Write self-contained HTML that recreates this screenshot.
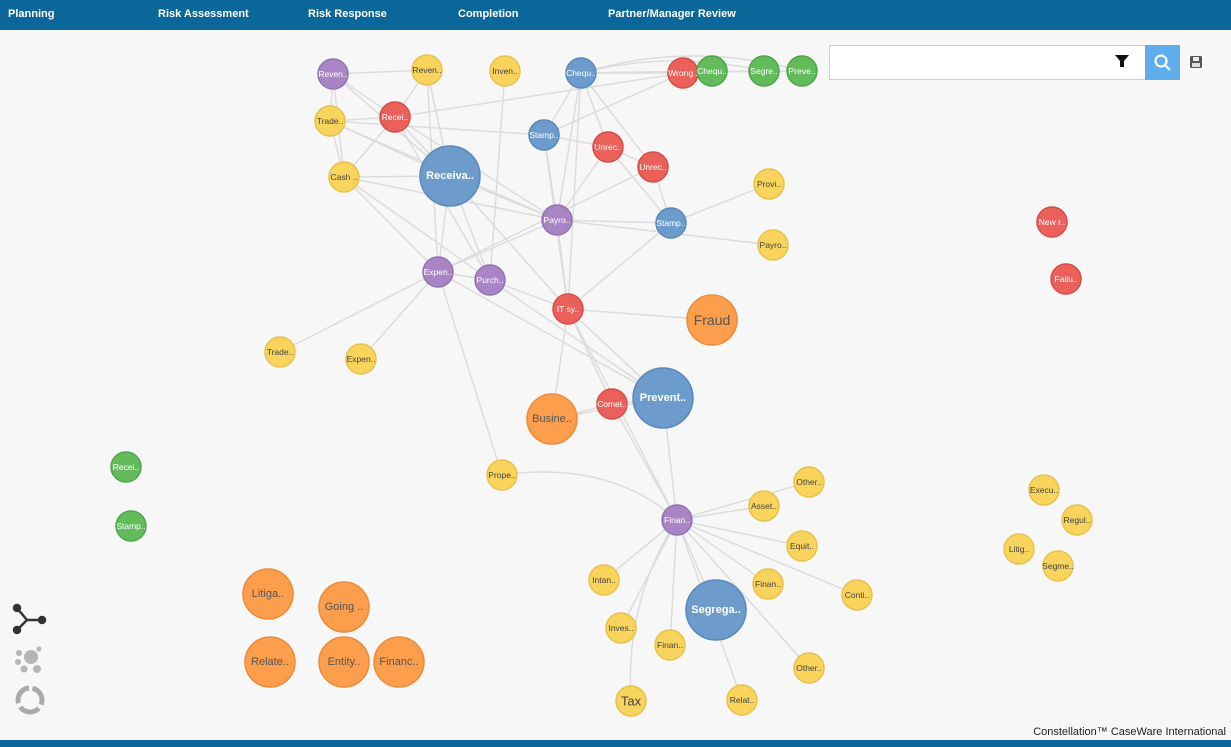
<!DOCTYPE html>
<html><head><meta charset="utf-8"><style>
html,body{margin:0;padding:0;width:1231px;height:747px;overflow:hidden;background:#f7f7f7;font-family:"Liberation Sans",sans-serif}
.top{position:absolute;left:0;top:0;width:1231px;height:30px;background:#0b6699}
.top span{position:absolute;top:8px;color:#fff;font-weight:bold;font-size:11px}
.bot{position:absolute;left:0;top:740px;width:1231px;height:7px;background:#0b6699}
.foot{position:absolute;right:5px;top:726px;font-size:11px;color:#222}
.search{position:absolute;left:829px;top:45px;width:315px;height:33px;background:#fff;border:1px solid #ccc}
.btn{position:absolute;left:1145px;top:45px;width:35px;height:35px;background:#5fadea}
</style></head><body>
<div class="top"><span style="left:8px">Planning</span><span style="left:158px">Risk Assessment</span><span style="left:308px">Risk Response</span><span style="left:458px">Completion</span><span style="left:608px">Partner/Manager Review</span></div>
<svg width="1231" height="747" style="position:absolute;left:0;top:0">
<g stroke="#dcdcdc" stroke-width="1.5" fill="none">
<line x1="333" y1="74" x2="427" y2="70"/><line x1="333" y1="74" x2="330" y2="121"/><line x1="333" y1="74" x2="395" y2="117"/><line x1="333" y1="74" x2="450" y2="176"/><line x1="333" y1="74" x2="344" y2="177"/>
<line x1="427" y1="70" x2="395" y2="117"/><line x1="427" y1="70" x2="450" y2="176"/><line x1="427" y1="70" x2="438" y2="272"/>
<line x1="330" y1="121" x2="344" y2="177"/><line x1="330" y1="121" x2="450" y2="176"/><line x1="330" y1="121" x2="395" y2="117"/><line x1="330" y1="121" x2="544" y2="135"/><line x1="330" y1="121" x2="557" y2="220"/>
<line x1="395" y1="117" x2="344" y2="177"/><line x1="395" y1="117" x2="450" y2="176"/><line x1="395" y1="117" x2="683" y2="73"/><line x1="395" y1="117" x2="557" y2="220"/><line x1="395" y1="117" x2="490" y2="280"/>
<line x1="344" y1="177" x2="450" y2="176"/><line x1="344" y1="177" x2="438" y2="272"/><line x1="344" y1="177" x2="490" y2="280"/><line x1="344" y1="177" x2="557" y2="220"/>
<line x1="450" y1="176" x2="438" y2="272"/><line x1="450" y1="176" x2="490" y2="280"/><line x1="450" y1="176" x2="557" y2="220"/><line x1="450" y1="176" x2="568" y2="309"/>
<line x1="505" y1="71" x2="490" y2="280"/>
<line x1="581" y1="73" x2="544" y2="135"/><line x1="581" y1="73" x2="608" y2="147"/><line x1="581" y1="73" x2="653" y2="167"/><line x1="581" y1="73" x2="557" y2="220"/><line x1="581" y1="73" x2="568" y2="309"/><line x1="581" y1="73" x2="683" y2="73"/><line x1="581" y1="73" x2="712" y2="71"/><line x1="581" y1="73" x2="764" y2="71"/><line x1="581" y1="73" x2="802" y2="71"/>
<path d="M581,73 Q690,40 802,71"/><path d="M581,73 Q670,50 764,71"/>
<line x1="544" y1="135" x2="608" y2="147"/><line x1="544" y1="135" x2="557" y2="220"/><line x1="544" y1="135" x2="568" y2="309"/><line x1="544" y1="135" x2="683" y2="73"/>
<line x1="608" y1="147" x2="557" y2="220"/><line x1="608" y1="147" x2="653" y2="167"/><line x1="608" y1="147" x2="671" y2="223"/>
<line x1="653" y1="167" x2="671" y2="223"/><line x1="653" y1="167" x2="438" y2="272"/>
<line x1="557" y1="220" x2="671" y2="223"/><line x1="557" y1="220" x2="773" y2="245"/><line x1="557" y1="220" x2="568" y2="309"/><line x1="557" y1="220" x2="438" y2="272"/>
<line x1="671" y1="223" x2="769" y2="184"/><line x1="671" y1="223" x2="568" y2="309"/>
<line x1="438" y1="272" x2="280" y2="352"/><line x1="438" y1="272" x2="361" y2="359"/><line x1="438" y1="272" x2="663" y2="398"/><line x1="438" y1="272" x2="490" y2="280"/><line x1="438" y1="272" x2="502" y2="475"/>
<line x1="490" y1="280" x2="663" y2="398"/><line x1="490" y1="280" x2="568" y2="309"/>
<line x1="568" y1="309" x2="712" y2="320"/><line x1="568" y1="309" x2="552" y2="419"/><line x1="568" y1="309" x2="663" y2="398"/><line x1="568" y1="309" x2="612" y2="404"/><line x1="568" y1="309" x2="677" y2="520"/>
<line x1="612" y1="404" x2="552" y2="419"/><line x1="612" y1="404" x2="663" y2="398"/><line x1="552" y1="419" x2="663" y2="398"/><line x1="612" y1="404" x2="677" y2="520"/>
<line x1="663" y1="398" x2="677" y2="520"/><path d="M502,475 Q610,460 677,520"/>
<line x1="677" y1="520" x2="764" y2="506"/><line x1="677" y1="520" x2="809" y2="482"/><line x1="677" y1="520" x2="802" y2="546"/><line x1="677" y1="520" x2="768" y2="584"/><line x1="677" y1="520" x2="857" y2="595"/><line x1="677" y1="520" x2="716" y2="610"/><line x1="677" y1="520" x2="809" y2="668"/><line x1="677" y1="520" x2="742" y2="700"/><path d="M677,520 Q625,600 631,701"/><line x1="677" y1="520" x2="670" y2="645"/><line x1="677" y1="520" x2="621" y2="628"/><line x1="677" y1="520" x2="604" y2="580"/>
</g>
<g stroke-width="1.5" font-family="Liberation Sans, sans-serif" text-anchor="middle" dominant-baseline="central">
<g fill="#a985c5" stroke="#9274b3"><circle cx="333" cy="74" r="15"/><circle cx="557" cy="220" r="15"/><circle cx="438" cy="272" r="15"/><circle cx="490" cy="280" r="15"/><circle cx="677" cy="520" r="15"/></g>
<g fill="#f8d45c" stroke="#e6c24a"><circle cx="427" cy="70" r="15"/><circle cx="505" cy="71" r="15"/><circle cx="330" cy="121" r="15"/><circle cx="344" cy="177" r="15"/><circle cx="769" cy="184" r="15"/><circle cx="773" cy="245" r="15"/><circle cx="280" cy="352" r="15"/><circle cx="361" cy="359" r="15"/><circle cx="502" cy="475" r="15"/><circle cx="809" cy="482" r="15"/><circle cx="1044" cy="490" r="15"/><circle cx="764" cy="506" r="15"/><circle cx="1077" cy="520" r="15"/><circle cx="802" cy="546" r="15"/><circle cx="1019" cy="549" r="15"/><circle cx="1058" cy="566" r="15"/><circle cx="604" cy="580" r="15"/><circle cx="768" cy="584" r="15"/><circle cx="857" cy="595" r="15"/><circle cx="621" cy="628" r="15"/><circle cx="670" cy="645" r="15"/><circle cx="809" cy="668" r="15"/><circle cx="631" cy="701" r="15"/><circle cx="742" cy="700" r="15"/></g>
<g fill="#eb605a" stroke="#d44e49"><circle cx="683" cy="73" r="15"/><circle cx="395" cy="117" r="15"/><circle cx="608" cy="147" r="15"/><circle cx="653" cy="167" r="15"/><circle cx="1052" cy="222" r="15"/><circle cx="1066" cy="279" r="15"/><circle cx="568" cy="309" r="15"/><circle cx="612" cy="404" r="15"/></g>
<g fill="#6d9bcc" stroke="#5a88ba"><circle cx="581" cy="73" r="15"/><circle cx="544" cy="135" r="15"/><circle cx="671" cy="223" r="15"/><circle cx="450" cy="176" r="30"/><circle cx="663" cy="398" r="30"/><circle cx="716" cy="610" r="30"/></g>
<g fill="#63bb5b" stroke="#4fa649"><circle cx="712" cy="71" r="15"/><circle cx="764" cy="71" r="15"/><circle cx="802" cy="71" r="15"/><circle cx="126" cy="467" r="15"/><circle cx="131" cy="526" r="15"/></g>
<g fill="#fd9e4c" stroke="#ec8b3a"><circle cx="712" cy="320" r="25"/><circle cx="552" cy="419" r="25"/><circle cx="268" cy="594" r="25"/><circle cx="344" cy="607" r="25"/><circle cx="270" cy="662" r="25"/><circle cx="344" cy="662" r="25"/><circle cx="399" cy="662" r="25"/></g>
<g stroke="none" fill="#fff" font-size="8.5">
<text x="333" y="74">Reven..</text><text x="557" y="220">Payro..</text><text x="438" y="272">Expen..</text><text x="490" y="280">Purch..</text><text x="677" y="520">Finan..</text>
<text x="683" y="73">Wrong..</text><text x="395" y="117">Recei..</text><text x="608" y="147">Unrec..</text><text x="653" y="167">Unrec..</text><text x="1052" y="222">New r..</text><text x="1066" y="279">Failu..</text><text x="568" y="309">IT sy..</text><text x="612" y="404">Comet..</text>
<text x="581" y="73">Chequ..</text><text x="544" y="135">Stamp..</text><text x="671" y="223">Stamp..</text>
<text x="712" y="71">Chequ..</text><text x="764" y="71">Segre..</text><text x="802" y="71">Preve..</text><text x="126" y="467">Recei..</text><text x="131" y="526">Stamp..</text>
<text x="450" y="176" font-size="11" font-weight="bold">Receiva..</text><text x="663" y="398" font-size="11" font-weight="bold">Prevent..</text><text x="716" y="610" font-size="11" font-weight="bold">Segrega..</text>
</g>
<g stroke="none" fill="#444" font-size="8.5">
<text x="427" y="70">Reven..</text><text x="505" y="71">Inven..</text><text x="330" y="121">Trade..</text><text x="344" y="177">Cash ..</text><text x="769" y="184">Provi..</text><text x="773" y="245">Payro..</text><text x="280" y="352">Trade..</text><text x="361" y="359">Expen..</text><text x="502" y="475">Prope..</text><text x="809" y="482">Other..</text><text x="1044" y="490">Execu..</text><text x="764" y="506">Asset..</text><text x="1077" y="520">Regul..</text><text x="802" y="546">Equit..</text><text x="1019" y="549">Litig..</text><text x="1058" y="566">Segme..</text><text x="604" y="580">Intan..</text><text x="768" y="584">Finan..</text><text x="857" y="595">Conti..</text><text x="621" y="628">Inves..</text><text x="670" y="645">Finan..</text><text x="809" y="668">Other..</text><text x="742" y="700">Relat..</text>
<text x="631" y="701" font-size="13">Tax</text>
</g>
<g stroke="none" fill="#555" font-size="11">
<text x="712" y="320" font-size="14">Fraud</text><text x="552" y="419">Busine..</text><text x="268" y="594">Litiga..</text><text x="344" y="607">Going ..</text><text x="270" y="662">Relate..</text><text x="344" y="662">Entity..</text><text x="399" y="662">Financ..</text>
</g>
</g>
<g stroke="#333" stroke-width="2.5" fill="#333"><line x1="17" y1="608" x2="27" y2="620"/><line x1="27" y1="620" x2="17" y2="630"/><line x1="27" y1="620" x2="42" y2="620"/><circle cx="17" cy="608" r="3"/><circle cx="17" cy="630" r="3"/><circle cx="42" cy="620" r="3"/></g>
<g fill="#b5b5b5"><circle cx="31" cy="657" r="7"/><circle cx="19" cy="653" r="3"/><circle cx="18" cy="662" r="3"/><circle cx="39" cy="649" r="2.5"/><circle cx="24" cy="669" r="3.5"/><circle cx="37" cy="669" r="4"/></g>
<circle cx="30" cy="700" r="12" fill="none" stroke="#aaa" stroke-width="5" stroke-dasharray="21 4.2" transform="rotate(-78 30 700)"/>
<g transform="translate(1115,55)" fill="#111"><path d="M0,0 H14 L9,6 V12 H5 V6 Z"/></g>
<g stroke="#fff" stroke-width="2.2" fill="none"><circle cx="1161" cy="61" r="5.5"/><line x1="1165" y1="65" x2="1170" y2="70"/></g>
<rect x="1190" y="56" width="12" height="12" rx="1.5" fill="#555"/><rect x="1193" y="57" width="6" height="4" fill="#eee"/><rect x="1192" y="63" width="8" height="4" fill="#ddd"/>
</svg>
<div class="search"></div><div class="btn"></div>
<svg width="1231" height="747" style="position:absolute;left:0;top:0;pointer-events:none">
<g transform="translate(1115,55)" fill="#111"><path d="M0,0 H14 L9,6 V12 H5 V6 Z"/></g>
<g stroke="#fff" stroke-width="2.2" fill="none"><circle cx="1161" cy="61" r="5.5"/><line x1="1165" y1="65" x2="1170" y2="70"/></g>
</svg>
<div class="foot">Constellation™ CaseWare International</div>
<div class="bot"></div>
</body></html>
